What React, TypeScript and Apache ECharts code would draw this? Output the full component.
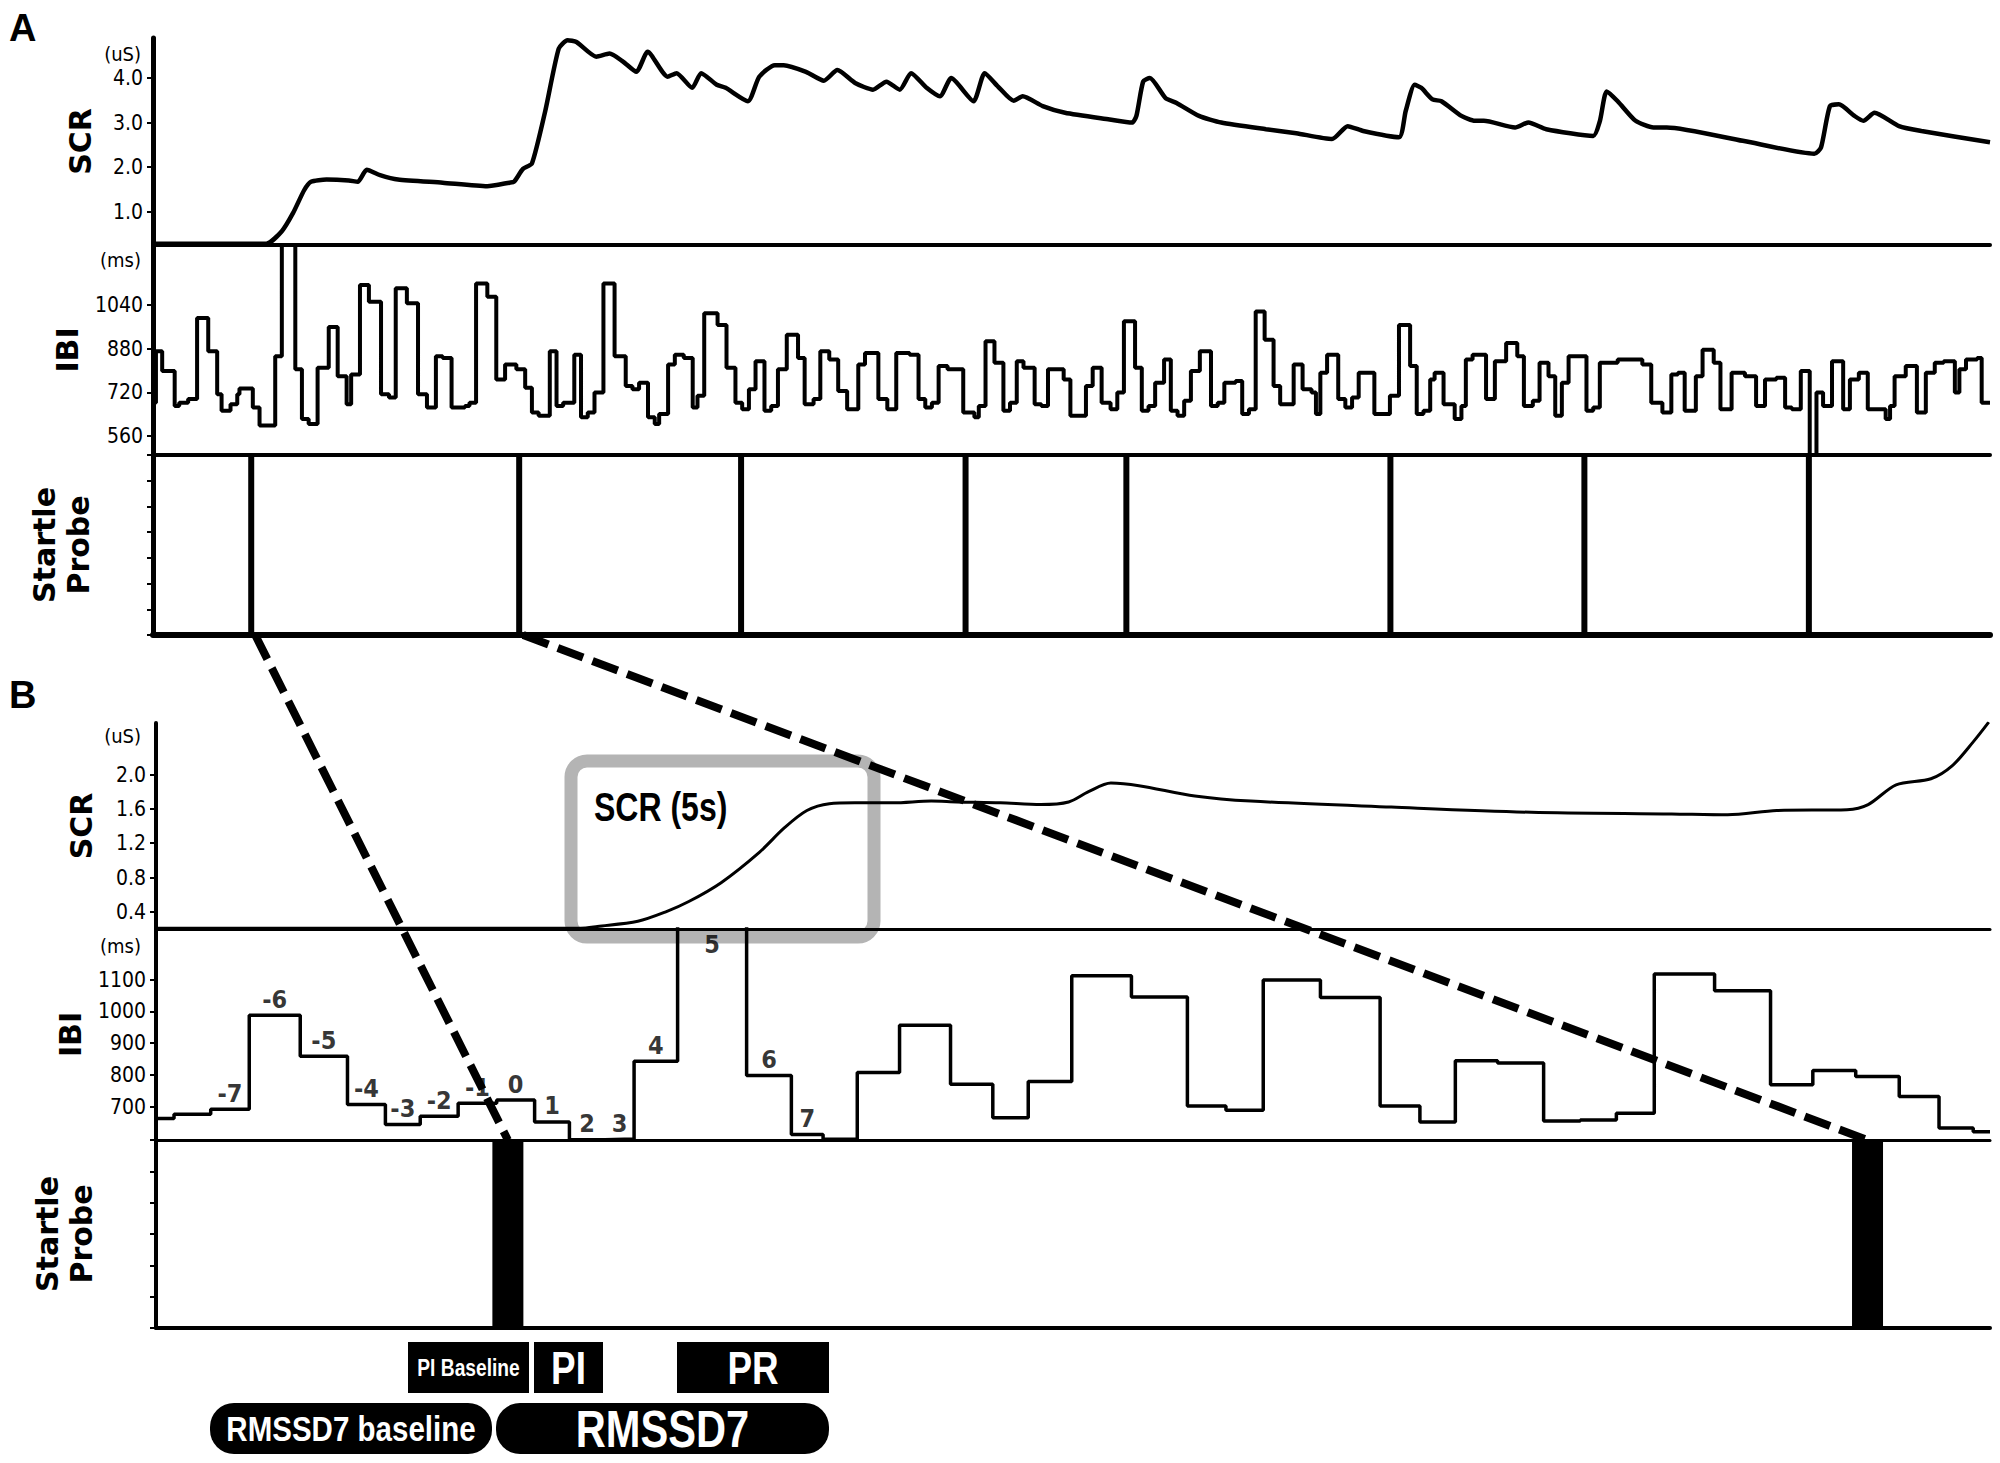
import React, { useEffect, useRef } from "react";
import * as echarts from "echarts";

const NARROW = "'Liberation Sans Narrow', 'Arial Narrow', 'DejaVu Sans Condensed', sans-serif";
const SANS = "'Liberation Sans', Arial, sans-serif";
const TITLE = "'DejaVu Sans', Verdana, sans-serif";

// ---------- Panel A: whole recording (time in s) ----------
const A_TIME_RANGE = [0, 150];
const A_SCR_RANGE = [0.25, 4.9];
const A_IBI_RANGE = [490, 1260];
const A_SCR_TICKS = [1, 2, 3, 4];
const A_IBI_TICKS = [560, 720, 880, 1040];

const A_SCR: [number, number][] = [
  [0, 0.28], [9.25, 0.28], [10.52, 0.56], [11.44, 0.97], [12.34, 1.48], [12.9, 1.67], [14.17, 1.72],
  [15.99, 1.7], [16.72, 1.67], [17.45, 1.94], [18.54, 1.82], [20.0, 1.72], [23.65, 1.65], [27.29, 1.57],
  [29.11, 1.65], [29.48, 1.67], [30.21, 1.96], [30.94, 2.08], [32.03, 3.26], [33.13, 4.66], [33.85, 4.85],
  [34.58, 4.81], [36.2, 4.48], [37.28, 4.55], [38.38, 4.37], [39.47, 4.14], [40.39, 4.59], [42.02, 4.03],
  [42.75, 4.11], [44.03, 3.78], [44.76, 4.11], [46.03, 3.85], [46.76, 3.78], [48.58, 3.48], [49.5, 4.03],
  [50.77, 4.29], [51.5, 4.29], [53.32, 4.14], [54.78, 3.94], [55.88, 4.18], [57.33, 3.89], [58.79, 3.74],
  [59.89, 3.92], [60.98, 3.74], [61.9, 4.11], [63.17, 3.78], [64.26, 3.59], [65.18, 4.0], [67.0, 3.48],
  [67.91, 4.11], [69.0, 3.81], [70.28, 3.49], [71.01, 3.59], [72.65, 3.37], [74.47, 3.22], [78.11, 3.07],
  [79.94, 3.0], [80.3, 3.15], [80.85, 3.92], [81.4, 4.0], [82.68, 3.55], [83.58, 3.44], [85.41, 3.15],
  [87.23, 3.0], [90.88, 2.85], [93.35, 2.76], [96.27, 2.63], [97.55, 2.92], [98.82, 2.81], [101.74, 2.67],
  [102.29, 3.26], [103.02, 3.85], [103.56, 3.78], [104.48, 3.52], [105.21, 3.48], [106.84, 3.15],
  [107.94, 3.04], [108.67, 3.04], [111.22, 2.89], [112.31, 3.0], [113.77, 2.85], [117.6, 2.7], [118.15, 3.04],
  [118.7, 3.7], [119.6, 3.48], [121.06, 3.04], [122.52, 2.89], [123.61, 2.89], [129.81, 2.59], [135.65, 2.3],
  [136.2, 2.44], [136.93, 3.37], [137.66, 3.41], [138.93, 3.15], [139.66, 3.04], [140.57, 3.22],
  [142.57, 2.92], [144.4, 2.81], [150, 2.56],
];

// beat onset time (s), inter-beat interval (ms)
const A_IBI: [number, number][] = [
  [0, 682], [0.24, 870], [0.75, 798], [1.77, 670], [2.14, 682], [2.87, 695], [3.6, 992], [4.51, 870], [5.24, 713], [5.6, 652],
  [6.33, 676], [6.88, 713], [7.06, 734], [8.15, 664], [8.7, 598], [9.98, 852], [10.52, 1400], [11.62, 804], [12.16, 622], [12.71, 604],
  [13.44, 810], [14.35, 959], [15.08, 779], [15.81, 676], [16.18, 785], [16.9, 1113], [17.63, 1052], [18.62, 713], [19.27, 701], [19.82, 1101],
  [20.73, 1046], [21.64, 713], [22.37, 664], [23.1, 852], [23.65, 846], [24.38, 664], [25.47, 670], [25.84, 682], [26.38, 1119], [27.3, 1070],
  [28.03, 767], [28.75, 822], [29.67, 804], [30.39, 737], [30.94, 646], [31.49, 634], [32.4, 870], [32.95, 670], [33.49, 682], [34.4, 858],
  [34.95, 628], [35.5, 646], [36.05, 719], [36.78, 1119], [37.69, 852], [38.6, 743], [39.15, 731], [39.69, 755], [40.42, 628], [40.97, 604],
  [41.33, 640], [42.06, 822], [42.61, 858], [43.34, 846], [44.07, 664], [44.46, 707], [45.01, 1010], [46.1, 967], [46.83, 810], [47.56, 682],
  [48.11, 658], [48.66, 731], [49.2, 834], [49.93, 652], [50.48, 670], [51.03, 804], [51.75, 931], [52.67, 846], [53.21, 676], [53.94, 695],
  [54.49, 870], [55.22, 840], [55.95, 725], [56.68, 658], [57.59, 822], [58.14, 864], [59.23, 695], [59.96, 658], [60.69, 864], [61.78, 858],
  [62.51, 695], [63.06, 664], [63.6, 682], [64.15, 816], [64.88, 804], [66.16, 646], [67.07, 628], [67.43, 670], [67.98, 907], [68.71, 828],
  [69.44, 652], [69.98, 682], [70.53, 834], [71.08, 810], [71.99, 676], [72.54, 670], [73.08, 804], [74.36, 767], [74.91, 634], [76.18, 743],
  [76.73, 810], [77.46, 682], [78.19, 658], [78.74, 719], [79.28, 980], [80.19, 810], [80.74, 652], [81.29, 670], [81.83, 755], [82.56, 840],
  [83.11, 652], [83.66, 634], [84.2, 689], [84.75, 798], [85.48, 870], [86.39, 670], [86.94, 682], [87.48, 755], [88.4, 761], [88.94, 640],
  [89.49, 658], [90.04, 1016], [90.77, 913], [91.5, 743], [92.04, 676], [93.14, 822], [93.87, 731], [94.6, 719], [94.96, 640], [95.32, 792],
  [95.87, 858], [96.78, 695], [97.36, 664], [97.91, 701], [98.45, 792], [99.73, 640], [101.0, 707], [101.74, 967], [102.65, 816], [103.19, 640],
  [103.74, 652], [104.29, 767], [104.65, 792], [105.38, 676], [106.29, 622], [106.84, 670], [107.2, 840], [107.75, 858], [108.85, 695], [109.57, 834],
  [110.49, 901], [111.4, 852], [111.94, 670], [112.67, 689], [113.22, 828], [113.95, 779], [114.5, 634], [115.04, 755], [115.59, 852], [117.05, 652],
  [117.6, 664], [118.14, 828], [119.6, 840], [121.61, 822], [122.34, 682], [123.25, 646], [123.98, 785], [124.52, 792], [125.07, 652], [125.98, 779],
  [126.53, 876], [127.44, 828], [127.99, 658], [128.9, 792], [129.99, 779], [130.9, 670], [131.63, 767], [132.55, 773], [133.27, 664], [133.82, 658],
  [134.55, 798], [135.28, 420], [135.83, 719], [136.37, 670], [137.1, 834], [138.01, 658], [138.56, 767], [139.29, 792], [140.02, 658], [141.48, 622],
  [141.84, 670], [142.21, 779], [143.12, 816], [144.03, 646], [144.76, 792], [145.49, 828], [146.22, 834], [147.13, 719], [147.5, 804], [148.04, 840],
  [148.95, 846], [149.32, 682], [150, 682],
];

const A_PROBES = [8.02, 29.9, 48.02, 66.35, 79.48, 101.04, 116.88, 135.21];

// ---------- Panel B: zoom on first two probes ----------
const B_TIME_RANGE = [2.5, 32];
const B_SCR_RANGE = [0.2, 2.6];
const B_IBI_RANGE = [595, 1260];
const B_SCR_TICKS = [0.4, 0.8, 1.2, 1.6, 2.0];
const B_IBI_TICKS = [700, 800, 900, 1000, 1100];

const B_SCR: [number, number][] = [
  [2.5, 0.21], [9.33, 0.21], [9.6, 0.23], [10.25, 0.29], [10.7, 0.4], [11.07, 0.52], [11.59, 0.74],
  [12.2, 1.09], [12.61, 1.38], [12.97, 1.58], [13.33, 1.66], [13.74, 1.67], [14.36, 1.67], [14.97, 1.69],
  [15.38, 1.68], [16.08, 1.67], [16.73, 1.65], [17.18, 1.68], [17.5, 1.8], [17.86, 1.9], [18.31, 1.87],
  [19.21, 1.75], [20.11, 1.69], [22.37, 1.62], [24.62, 1.56], [26.88, 1.54], [27.78, 1.53], [28.57, 1.58],
  [29.7, 1.59], [30.04, 1.65], [30.49, 1.88], [31.05, 1.95], [31.39, 2.1], [31.73, 2.38], [31.98, 2.61],
];

const B_IBI: [number, number][] = [
  [2.5, 663], [2.79, 676], [3.38, 692], [4.0, 988], [4.82, 859], [5.58, 707], [6.19, 644], [6.75, 670],
  [7.36, 711], [7.98, 721], [8.59, 652], [9.15, 596], [9.72, 598], [10.19, 843], [10.89, 1400], [12.0, 798],
  [12.72, 612], [13.23, 597], [13.78, 808], [14.46, 957], [15.28, 771], [15.96, 665], [16.53, 779],
  [17.23, 1113], [18.19, 1046], [19.09, 702], [19.71, 689], [20.31, 1099], [21.23, 1044], [22.19, 702],
  [22.83, 652], [23.4, 845], [24.08, 838], [24.82, 655], [25.41, 658], [25.99, 679], [26.6, 1118],
  [27.57, 1065], [28.47, 769], [29.15, 814], [29.84, 795], [30.54, 732], [31.18, 633], [31.73, 621], [32.0, 621],
];

const B_BEAT_LABELS = ["-7", "-6", "-5", "-4", "-3", "-2", "-1", "0", "1", "2", "3", "4", "5", "6", "7"];
const B_BEAT_FIRST = 2;
const B_PROBES = [8.16, 30.03];

function buildOption() {
  const grids = [
    { left: 153, right: 10, top: 38, height: 207 },
    { left: 153, right: 10, top: 245, height: 210 },
    { left: 153, right: 10, top: 455, height: 180 },
    { left: 156, right: 10, top: 723, height: 206 },
    { left: 156, right: 10, top: 929, height: 211 },
    { left: 156, right: 10, top: 1140, height: 188 },
  ];
  const xw = [4, 4, 6, 3, 3, 4];
  const xAxis = grids.map((_, i) => ({
    type: "value",
    gridIndex: i,
    min: i < 3 ? A_TIME_RANGE[0] : B_TIME_RANGE[0],
    max: i < 3 ? A_TIME_RANGE[1] : B_TIME_RANGE[1],
    axisLine: { show: true, onZero: false, lineStyle: { color: "#000", width: xw[i] } },
    axisTick: { show: false },
    axisLabel: { show: false },
    splitLine: { show: false },
  }));

  const labelStyle = { fontFamily: NARROW, fontSize: 21, color: "#000", margin: 10 };
  const nameStyle = { fontFamily: TITLE, fontWeight: "bold", fontSize: 30, color: "#000", lineHeight: 34 };
  const yBase = (i: number, lw: number) => ({
    type: "value",
    gridIndex: i,
    axisLine: { show: true, lineStyle: { color: "#000", width: lw } },
    splitLine: { show: false },
    nameLocation: "middle",
    nameRotate: 90,
    nameTextStyle: nameStyle,
  });
  const valueAxis = (i: number, lw: number, range: number[], ticks: number[], digits: number, name: string, gap: number) => ({
    ...yBase(i, lw),
    min: range[0],
    max: range[1],
    name,
    nameGap: gap,
    axisTick: { show: true, length: 6, customValues: ticks, lineStyle: { color: "#000", width: 2 } },
    axisLabel: {
      ...labelStyle,
      customValues: ticks,
      formatter: (v: number) => (digits ? v.toFixed(digits) : String(Math.round(v))),
    },
  });
  const probeAxis = (i: number, lw: number, n: number, gap: number) => ({
    ...yBase(i, lw),
    min: 0,
    max: n,
    interval: 1,
    name: "Startle\nProbe",
    nameGap: gap,
    axisTick: { show: true, length: 6, lineStyle: { color: "#000", width: 2 } },
    axisLabel: { show: false },
  });

  const yAxis = [
    valueAxis(0, 5, A_SCR_RANGE, A_SCR_TICKS, 1, "SCR", 56),
    valueAxis(1, 5, A_IBI_RANGE, A_IBI_TICKS, 0, "IBI", 56),
    probeAxis(2, 5, 7, 58),
    valueAxis(3, 4, B_SCR_RANGE, B_SCR_TICKS, 1, "SCR", 58),
    valueAxis(4, 4, B_IBI_RANGE, B_IBI_TICKS, 0, "IBI", 58),
    probeAxis(5, 4, 6, 58),
  ];

  const beatLabels = B_BEAT_LABELS.map((lab, j) => {
    const k = B_BEAT_FIRST + j;
    const t0 = B_IBI[k][0];
    const t1 = B_IBI[k + 1][0];
    const v = B_IBI[k][1];
    const off = v > B_IBI_RANGE[1];
    const item: any = { name: lab, value: [(t0 + t1) / 2, off ? B_IBI_RANGE[1] : v] };
    if (off) item.label = { position: "bottom", distance: 2 };
    return item;
  });

  const lineBase = { type: "line", showSymbol: false, symbol: "none", animation: false };
  const series = [
    { ...lineBase, xAxisIndex: 0, yAxisIndex: 0, data: A_SCR, smooth: 0.2, lineStyle: { color: "#000", width: 4.5 } },
    { ...lineBase, xAxisIndex: 1, yAxisIndex: 1, data: A_IBI, step: "end", lineStyle: { color: "#000", width: 4 } },
    { type: "bar", xAxisIndex: 2, yAxisIndex: 2, data: A_PROBES.map((t) => [t, 7]), barWidth: 6, itemStyle: { color: "#000" } },
    { ...lineBase, xAxisIndex: 3, yAxisIndex: 3, data: B_SCR, smooth: 0.3, lineStyle: { color: "#000", width: 3 } },
    { ...lineBase, xAxisIndex: 4, yAxisIndex: 4, data: B_IBI, step: "end", lineStyle: { color: "#000", width: 3.5 } },
    {
      type: "scatter", xAxisIndex: 4, yAxisIndex: 4, data: beatLabels, symbolSize: 1,
      itemStyle: { color: "rgba(0,0,0,0)" }, z: 5,
      label: { show: true, position: "top", distance: 3, formatter: "{b}", fontFamily: NARROW, fontWeight: "bold", fontSize: 25, color: "#000" },
    },
    { type: "bar", xAxisIndex: 5, yAxisIndex: 5, data: B_PROBES.map((t) => [t, 6]), barWidth: 31, itemStyle: { color: "#000" } },
  ];

  return { animation: false, backgroundColor: "#fff", grid: grids, xAxis, yAxis, series };
}

// black label box with condensed bold white text (Liberation Sans squeezed horizontally)
function blackBox(x: number, y: number, w: number, h: number, r: number, text: string, size: number, sx: number) {
  return [
    { type: "rect", z: 60, shape: { x, y, width: w, height: h, r }, style: { fill: "#000" } },
    {
      type: "text", z: 61, x: x + w / 2, y: y + h / 2, scaleX: sx,
      style: { text, fill: "#fff", font: `bold ${size}px ${SANS}`, align: "center", verticalAlign: "middle" },
    },
  ];
}

export default function App() {
  const ref = useRef<HTMLDivElement>(null);
  useEffect(() => {
    if (!ref.current) return;
    const chart = echarts.init(ref.current, null, { renderer: "svg" });
    chart.setOption(buildOption());

    const a1 = chart.convertToPixel({ gridIndex: 2 }, [A_PROBES[0], 0]) as number[];
    const b1 = chart.convertToPixel({ gridIndex: 5 }, [B_PROBES[0], 6]) as number[];
    const a2 = chart.convertToPixel({ gridIndex: 2 }, [A_PROBES[1], 0]) as number[];
    const b2 = chart.convertToPixel({ gridIndex: 5 }, [B_PROBES[1], 6]) as number[];

    const unit = (t: string, y: number) => ({
      type: "text", z: 20, x: 141, y,
      style: { text: t, fill: "#000", font: `20px ${NARROW}`, align: "right", verticalAlign: "middle" },
    });
    const dash = (p: number[], q: number[]) => ({
      type: "line", z: 50,
      shape: { x1: p[0] + 4, y1: p[1], x2: q[0], y2: q[1] },
      style: { stroke: "#000", lineWidth: 8, lineDash: [27, 10] },
    });

    const elements: any[] = [
      { type: "text", z: 20, x: 9, y: 9, style: { text: "A", fill: "#000", font: `bold 38px ${SANS}` } },
      { type: "text", z: 20, x: 9, y: 676, style: { text: "B", fill: "#000", font: `bold 38px ${SANS}` } },
      unit("(uS)", 54), unit("(ms)", 260), unit("(uS)", 736), unit("(ms)", 946),
      {
        type: "rect", z: -1, shape: { x: 571, y: 761, width: 303, height: 176, r: 16 },
        style: { fill: "none", stroke: "#b4b4b4", lineWidth: 13 },
      },
      {
        type: "text", z: 20, x: 594, y: 807, scaleX: 0.8,
        style: { text: "SCR (5s)", fill: "#000", font: `bold 40px ${SANS}`, align: "left", verticalAlign: "middle" },
      },
      dash(a1, b1), dash(a2, b2),
      ...blackBox(408, 1342, 121, 51, 0, "PI Baseline", 24, 0.8),
      ...blackBox(534, 1342, 69, 51, 0, "PI", 46, 0.8),
      ...blackBox(677, 1342, 152, 51, 0, "PR", 46, 0.8),
      ...blackBox(210, 1403, 282, 51, 24, "RMSSD7 baseline", 36, 0.82),
      ...blackBox(496, 1403, 333, 51, 24, "RMSSD7", 52, 0.8),
    ];
    chart.setOption({ graphic: { elements } });
    return () => chart.dispose();
  }, []);
  return <div ref={ref} style={{ position: "fixed", left: 0, top: 0, width: 2000, height: 1463, background: "#fff" }} />;
}
